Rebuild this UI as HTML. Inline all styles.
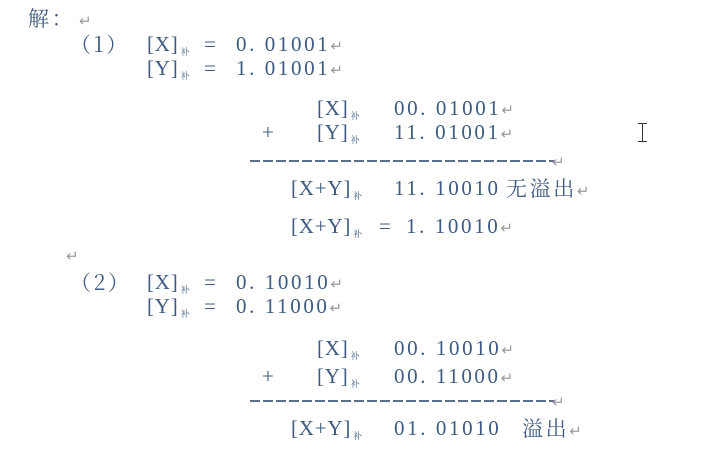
<!DOCTYPE html>
<html><head><meta charset="utf-8"><style>
body{margin:0;width:716px;height:462px;background:#fff;position:relative;overflow:hidden;font-family:"Liberation Serif","Noto Serif CJK SC",serif;color:#3f5b82;}
span.t{position:absolute;font-size:21px;line-height:22px;white-space:pre;letter-spacing:2.6px}
span.l{letter-spacing:0.8px}
sub{font-size:9px;vertical-align:-4px;margin-left:2px;letter-spacing:0}
i{font-style:normal;color:#9a9a9a;font-size:15px;letter-spacing:0}
.d{position:absolute;height:1.5px;background:repeating-linear-gradient(90deg,#5a7090 0 10px,transparent 10px 13px);}
.c{font-family:"Noto Serif CJK SC",serif;letter-spacing:0}
</style></head><body>
<span class="t c" style="left:28px;top:7px">解：<i> ↵</i></span>
<span class="t c" style="left:70px;top:33px">（1）</span>
<span class="t l" style="left:147px;top:33px">[X]<sub>补</sub></span>
<span class="t" style="left:204px;top:33px">=</span>
<span class="t" style="left:236px;top:33px">0. 01001<i>↵</i></span>
<span class="t l" style="left:147px;top:57px">[Y]<sub>补</sub></span>
<span class="t" style="left:204px;top:57px">=</span>
<span class="t" style="left:236px;top:57px">1. 01001<i>↵</i></span>
<span class="t l" style="left:317px;top:97px">[X]<sub>补</sub></span>
<span class="t" style="left:394px;top:97px">00. 01001<i>↵</i></span>
<span class="t" style="left:262px;top:121px">+</span>
<span class="t l" style="left:317px;top:121px">[Y]<sub>补</sub></span>
<span class="t" style="left:394px;top:121px">11. 01001<i>↵</i></span>
<div class="d" style="left:250px;top:160px;width:304px"></div>
<span class="t" style="left:552px;top:149px"><i>↵</i></span>
<span class="t l" style="left:291px;top:177px">[X+Y]<sub>补</sub></span>
<span class="t" style="left:394px;top:177px">11. 10010</span>
<span class="t c" style="left:506px;top:177px">无溢出<i>↵</i></span>
<span class="t l" style="left:291px;top:215px">[X+Y]<sub>补</sub></span>
<span class="t" style="left:379px;top:215px">=</span>
<span class="t" style="left:406px;top:215px">1. 10010<i>↵</i></span>
<span class="t" style="left:66px;top:243px"><i>↵</i></span>
<span class="t c" style="left:70px;top:271px">（2）</span>
<span class="t l" style="left:147px;top:271px">[X]<sub>补</sub></span>
<span class="t" style="left:204px;top:271px">=</span>
<span class="t" style="left:236px;top:271px">0. 10010<i>↵</i></span>
<span class="t l" style="left:147px;top:295px">[Y]<sub>补</sub></span>
<span class="t" style="left:204px;top:295px">=</span>
<span class="t" style="left:236px;top:295px">0. 11000<i>↵</i></span>
<span class="t l" style="left:317px;top:337px">[X]<sub>补</sub></span>
<span class="t" style="left:394px;top:337px">00. 10010<i>↵</i></span>
<span class="t" style="left:262px;top:365px">+</span>
<span class="t l" style="left:317px;top:365px">[Y]<sub>补</sub></span>
<span class="t" style="left:394px;top:365px">00. 11000<i>↵</i></span>
<div class="d" style="left:250px;top:400px;width:304px"></div>
<span class="t" style="left:552px;top:389px"><i>↵</i></span>
<span class="t l" style="left:291px;top:417px">[X+Y]<sub>补</sub></span>
<span class="t" style="left:394px;top:417px">01. 01010</span>
<span class="t c" style="left:522px;top:417px">溢出<i>↵</i></span>
<div style="position:absolute;left:642px;top:123px;width:1px;height:18px;background:#333"></div>
<div style="position:absolute;left:638px;top:123px;width:9px;height:1px;background:#333"></div>
<div style="position:absolute;left:638px;top:141px;width:9px;height:1px;background:#333"></div>
</body></html>
